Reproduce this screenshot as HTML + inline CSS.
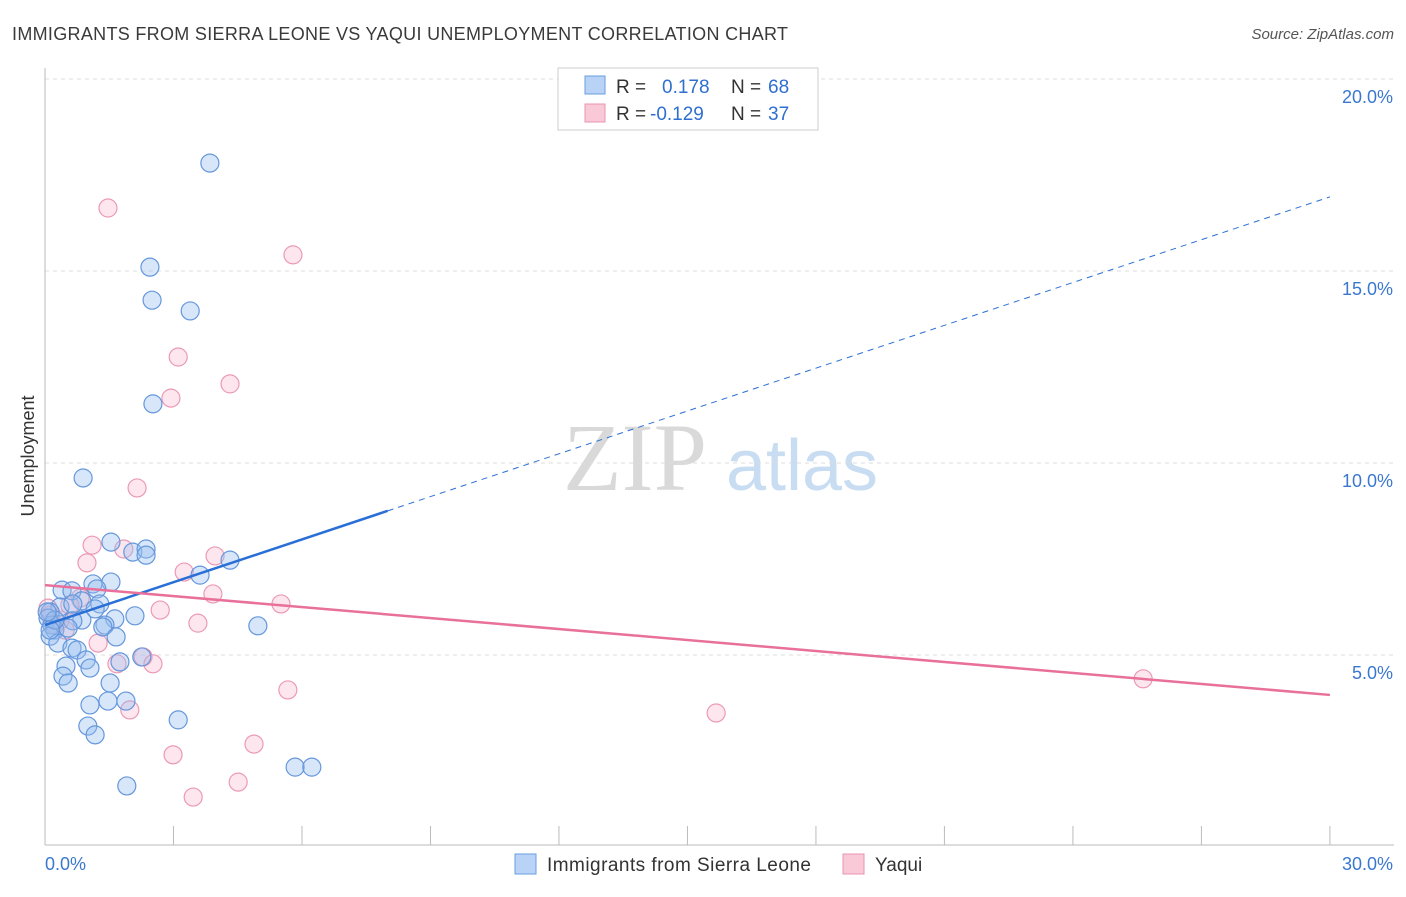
<!DOCTYPE html>
<html><head><meta charset="utf-8"><style>
body{margin:0;background:#fff;font-family:"Liberation Sans",sans-serif;}
</style></head><body>
<svg width="1406" height="892" viewBox="0 0 1406 892" xmlns="http://www.w3.org/2000/svg">
<text x="12" y="40" font-size="18" fill="#3a3a3a" textLength="776">IMMIGRANTS FROM SIERRA LEONE VS YAQUI UNEMPLOYMENT CORRELATION CHART</text>
<text x="1394" y="39" font-size="15" fill="#555" text-anchor="end" font-style="italic">Source: ZipAtlas.com</text>
<g>
<text x="635" y="490" font-size="96" fill="#d9d9d9" text-anchor="middle" font-family="Liberation Serif,serif">ZIP</text>
<text x="802" y="490" font-size="72" fill="#c8dcf2" text-anchor="middle">atlas</text>
</g>
<g id="grid"></g>
<g id="axes"></g>
<g id="marks"></g>
<text x="34" y="456" font-size="18" fill="#333" text-anchor="middle" transform="rotate(-90 34 456)">Unemployment</text>
<g>
<rect x="558" y="68" width="260" height="62" fill="#fff" stroke="#ccc"/>
<rect x="585" y="76" width="20" height="18" fill="#b8d3f5" stroke="#6a9ede"/>
<rect x="585" y="104" width="20" height="18" fill="#f9c9d7" stroke="#e895b0"/>
<text x="616" y="93" font-size="19" fill="#333">R = </text><text x="662" y="93" font-size="19" fill="#2f6fd0">0.178</text>
<text x="731" y="93" font-size="19" fill="#333">N = </text><text x="768" y="93" font-size="19" fill="#2f6fd0">68</text>
<text x="616" y="120" font-size="19" fill="#333">R = </text><text x="650" y="120" font-size="19" fill="#2f6fd0">-0.129</text>
<text x="731" y="120" font-size="19" fill="#333">N = </text><text x="768" y="120" font-size="19" fill="#2f6fd0">37</text>
</g>
<g>
<rect x="515" y="854" width="21" height="20" fill="#b8d3f5" stroke="#6a9ede"/>
<text x="547" y="871" font-size="19" fill="#333" textLength="264">Immigrants from Sierra Leone</text>
<rect x="843" y="854" width="21" height="20" fill="#f9c9d7" stroke="#e895b0"/>
<text x="875" y="871" font-size="19" fill="#333">Yaqui</text>
</g>
</svg>
<script>
const blueX=[3.85,2.45,2.50,3.39,2.52,0.89,1.54,2.05,2.36,2.36,4.32,3.62,1.54,1.12,1.21,0.40,0.63,0.86,1.28,0.35,0.65,1.17,2.10,1.63,0.86,0.65,1.40,1.35,0.12,0.07,0.16,0.23,0.12,0.54,4.97,1.66,0.30,0.63,0.75,0.96,1.05,0.49,2.26,1.75,0.42,0.54,1.52,1.05,1.47,1.89,3.11,1.00,1.17,5.84,6.23,1.91,0.23,0.05,0.12];
const blueY=[17.81,15.10,14.24,13.96,11.54,9.61,7.94,7.68,7.76,7.60,7.47,7.08,6.90,6.85,6.72,6.69,6.67,6.41,6.33,6.25,6.33,6.20,6.02,5.94,5.91,5.89,5.78,5.73,6.12,5.96,5.78,5.65,5.49,5.70,5.76,5.47,5.31,5.18,5.13,4.87,4.66,4.71,4.95,4.82,4.45,4.27,4.27,3.70,3.80,3.80,3.31,3.15,2.92,2.08,2.08,1.59,5.91,6.12,5.65];
const pinkX=[1.47,5.79,3.11,4.32,2.94,2.15,1.10,0.98,1.84,3.97,3.25,3.92,0.82,2.69,5.51,3.57,0.47,0.12,0.23,0.58,1.24,1.68,2.29,2.52,1.98,5.67,2.99,4.88,4.51,3.46,15.67,25.64,0.35,0.07];
const pinkY=[16.64,15.42,12.76,12.06,11.69,9.35,7.86,7.40,7.76,7.58,7.16,6.59,6.48,6.17,6.33,5.83,5.65,6.04,5.78,6.30,5.31,4.77,4.95,4.77,3.57,4.09,2.40,2.68,1.69,1.30,3.49,4.38,5.91,6.22];
const blueTrend=[5.78,16.93];
const blueSolidEnd=8.0;
const pinkTrend=[6.82,3.96];
const yTicks=[5,10,15,20];
const xTickLabels=["0.0%","30.0%"];
const NS="http://www.w3.org/2000/svg";
const sx=v=>45+v*42.83, sy=v=>847-v*38.4;
function mk(tag,attrs,parent){const e=document.createElementNS(NS,tag);for(const k in attrs)e.setAttribute(k,attrs[k]);document.getElementById(parent).appendChild(e);return e;}
yTicks.forEach(t=>{
 const l=mk('line',{x1:45,x2:1394,y1:sy(t),y2:sy(t),stroke:'#ddd','stroke-dasharray':'4,4'},'grid');
 
 
 const tx=mk('text',{x:1393,y:sy(t)+24,'font-size':18,fill:'#3a78d0','text-anchor':'end'},'grid');
 tx.textContent=t.toFixed(1)+'%';
 
 
});
mk('line',{x1:45,x2:45,y1:68,y2:845,stroke:'#bbb'},'axes');
mk('line',{x1:45,x2:1394,y1:845,y2:845,stroke:'#bbb'},'axes');
for(let i=0;i<=10;i++){const t=mk('line',{x1:sx(i*3),x2:sx(i*3),y1:826,y2:845,stroke:'#bbb'},'axes');
 
 }
const x0=mk('text',{x:45,y:870,'font-size':18,fill:'#3a78d0'},'axes');x0.textContent=xTickLabels[0];


const x1=mk('text',{x:1393,y:870,'font-size':18,fill:'#3a78d0','text-anchor':'end'},'axes');x1.textContent=xTickLabels[1];


pinkX.forEach((x,i)=>{const c=mk('circle',{cx:sx(x),cy:sy(pinkY[i]),r:9,fill:'rgba(248,182,204,0.35)',stroke:'#eb9ab6','stroke-width':1.2},'marks');
 
 });
blueX.forEach((x,i)=>{const c=mk('circle',{cx:sx(x),cy:sy(blueY[i]),r:9,fill:'rgba(150,190,240,0.38)',stroke:'#6597dc','stroke-width':1.2},'marks');
 
 });
const by=x=>blueTrend[0]+(blueTrend[1]-blueTrend[0])*x/30;
const b1=mk('line',{x1:sx(0),y1:sy(by(0)),x2:sx(blueSolidEnd),y2:sy(by(blueSolidEnd)),stroke:'#2a6fd6','stroke-width':2.5},'marks');


const b2=mk('line',{x1:sx(blueSolidEnd),y1:sy(by(blueSolidEnd)),x2:sx(30),y2:sy(by(30)),stroke:'#2a6fd6','stroke-width':1,'stroke-dasharray':'6,5'},'marks');


const p1=mk('line',{x1:sx(0),y1:sy(pinkTrend[0]),x2:sx(30),y2:sy(pinkTrend[1]),stroke:'#e8709a','stroke-width':2.5},'marks');


</script>
</body></html>
